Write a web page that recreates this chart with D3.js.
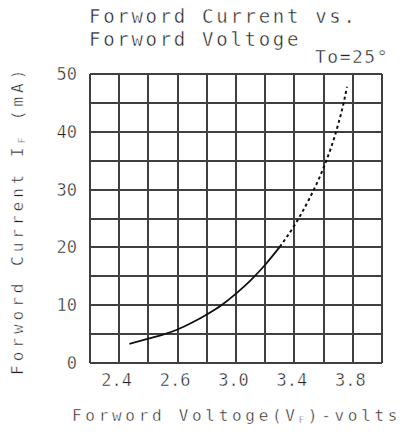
<!DOCTYPE html>
<html>
<head>
<meta charset="utf-8">
<script src="https://cdn.jsdelivr.net/npm/d3@7"></script>
<style>
  html, body { margin: 0; padding: 0; background: #fff; }
  svg text { font-family: "DejaVu Sans Mono", monospace; fill: #222; stroke: #fff; stroke-width: 0.45px; }
</style>
</head>
<body>
<div id="chart"></div>
<script>
// forward voltage (V) vs forward current (mA)
var voltage = [2.27, 2.4, 2.5, 2.6, 2.7, 2.8, 2.9, 3.0, 3.1, 3.2, 3.3, 3.4, 3.5, 3.6, 3.65, 3.7, 3.74, 3.76];
var current = [3.3, 4.2, 4.9, 5.8, 7.0, 8.4, 10.0, 12.0, 14.3, 17.0, 20.1, 23.8, 28.3, 33.8, 37.2, 41.3, 45.3, 47.8];
var solidCount = 11; // points drawn solid, rest dashed

var xTickValues = [2.2, 2.6, 3.0, 3.4, 3.8];
var xTickLabels = ["2.4", "2.6", "3.0", "3.4", "3.8"];
var yTickValues = [0, 10, 20, 30, 40, 50];

var width = 403, height = 434;
var margin = { top: 74, right: 21, bottom: 71, left: 90 };

var svg = d3.select('#chart').append('svg')
    .attr('width', width)
    .attr('height', height);

var x = d3.scaleLinear().domain([2.0, 4.0]).range([margin.left, width - margin.right]);
var y = d3.scaleLinear().domain([0, 50]).range([height - margin.bottom, margin.top]);

// grid
var grid = svg.append('g').attr('class', 'grid')
    .attr('stroke', '#404040')
    .attr('stroke-width', 2)
    .attr('shape-rendering', 'crispEdges');
grid.selectAll('line.v')
    .data(d3.range(0, 11).map(function (i) { return 2.0 + i * 0.2; }))
    .enter().append('line')
    .attr('class', 'v')
    .attr('x1', function (d) { return x(d); })
    .attr('x2', function (d) { return x(d); })
    .attr('y1', y(0))
    .attr('y2', y(50));
grid.selectAll('line.h')
    .data(d3.range(0, 11).map(function (i) { return i * 5; }))
    .enter().append('line')
    .attr('class', 'h')
    .attr('x1', x(2.0))
    .attr('x2', x(4.0))
    .attr('y1', function (d) { return y(d); })
    .attr('y2', function (d) { return y(d); });

// axes (labels only)
var xAxis = d3.axisBottom(x)
    .tickValues(xTickValues)
    .tickFormat(function (d, i) { return xTickLabels[i]; })
    .tickSize(0)
    .tickPadding(11);
var gx = svg.append('g')
    .attr('transform', 'translate(0,' + y(0) + ')')
    .call(xAxis);
gx.select('.domain').remove();
gx.selectAll('text')
    .attr('font-family', '"DejaVu Sans Mono", monospace')
    .attr('font-size', 17)
    .attr('fill', '#222')
    .attr('dx', -3);

var yAxis = d3.axisLeft(y)
    .tickValues(yTickValues)
    .tickSize(0)
    .tickPadding(13);
var gy = svg.append('g')
    .attr('transform', 'translate(' + x(2.0) + ',0)')
    .call(yAxis);
gy.select('.domain').remove();
gy.selectAll('text')
    .attr('font-family', '"DejaVu Sans Mono", monospace')
    .attr('font-size', 17)
    .attr('fill', '#222');

// curve
var pts = voltage.map(function (v, i) { return [v, current[i]]; });
var line = d3.line()
    .x(function (d) { return x(d[0]); })
    .y(function (d) { return y(d[1]); })
    .curve(d3.curveMonotoneX);

svg.append('path')
    .datum(pts.slice(0, solidCount))
    .attr('d', line)
    .attr('fill', 'none')
    .attr('stroke', '#111')
    .attr('stroke-width', 1.8);
svg.append('path')
    .datum(pts.slice(solidCount - 1))
    .attr('d', line)
    .attr('fill', 'none')
    .attr('stroke', '#111')
    .attr('stroke-width', 2)
    .attr('stroke-dasharray', '3,3');

// titles
svg.append('text')
    .attr('x', 89).attr('y', 23)
    .attr('font-size', 19)
    .attr('letter-spacing', 2.7)
    .text('Forword Current vs.');
svg.append('text')
    .attr('x', 89).attr('y', 46)
    .attr('font-size', 19)
    .attr('letter-spacing', 2.7)
    .text('Forword Voltoge');
svg.append('text')
    .attr('x', 315).attr('y', 63)
    .attr('font-size', 18)
    .attr('letter-spacing', 1.5)
    .text('To=25°');

var xt = svg.append('text')
    .attr('x', 72).attr('y', 421)
    .attr('font-size', 16)
    .attr('letter-spacing', 3.7)
    .text('Forword Voltoge(V');
xt.append('tspan').attr('font-size', 9).attr('dy', 2).text('F');
xt.append('tspan').attr('dy', -2).text(')-volts');

var yt = svg.append('text')
    .attr('transform', 'translate(23,375) rotate(-90)')
    .attr('font-size', 16)
    .attr('letter-spacing', 4)
    .text('Forword Current I');
yt.append('tspan').attr('font-size', 9).attr('dy', 2).text('F');
yt.append('tspan').attr('dy', -2).text(' (mA)');
</script>
</body>
</html>
